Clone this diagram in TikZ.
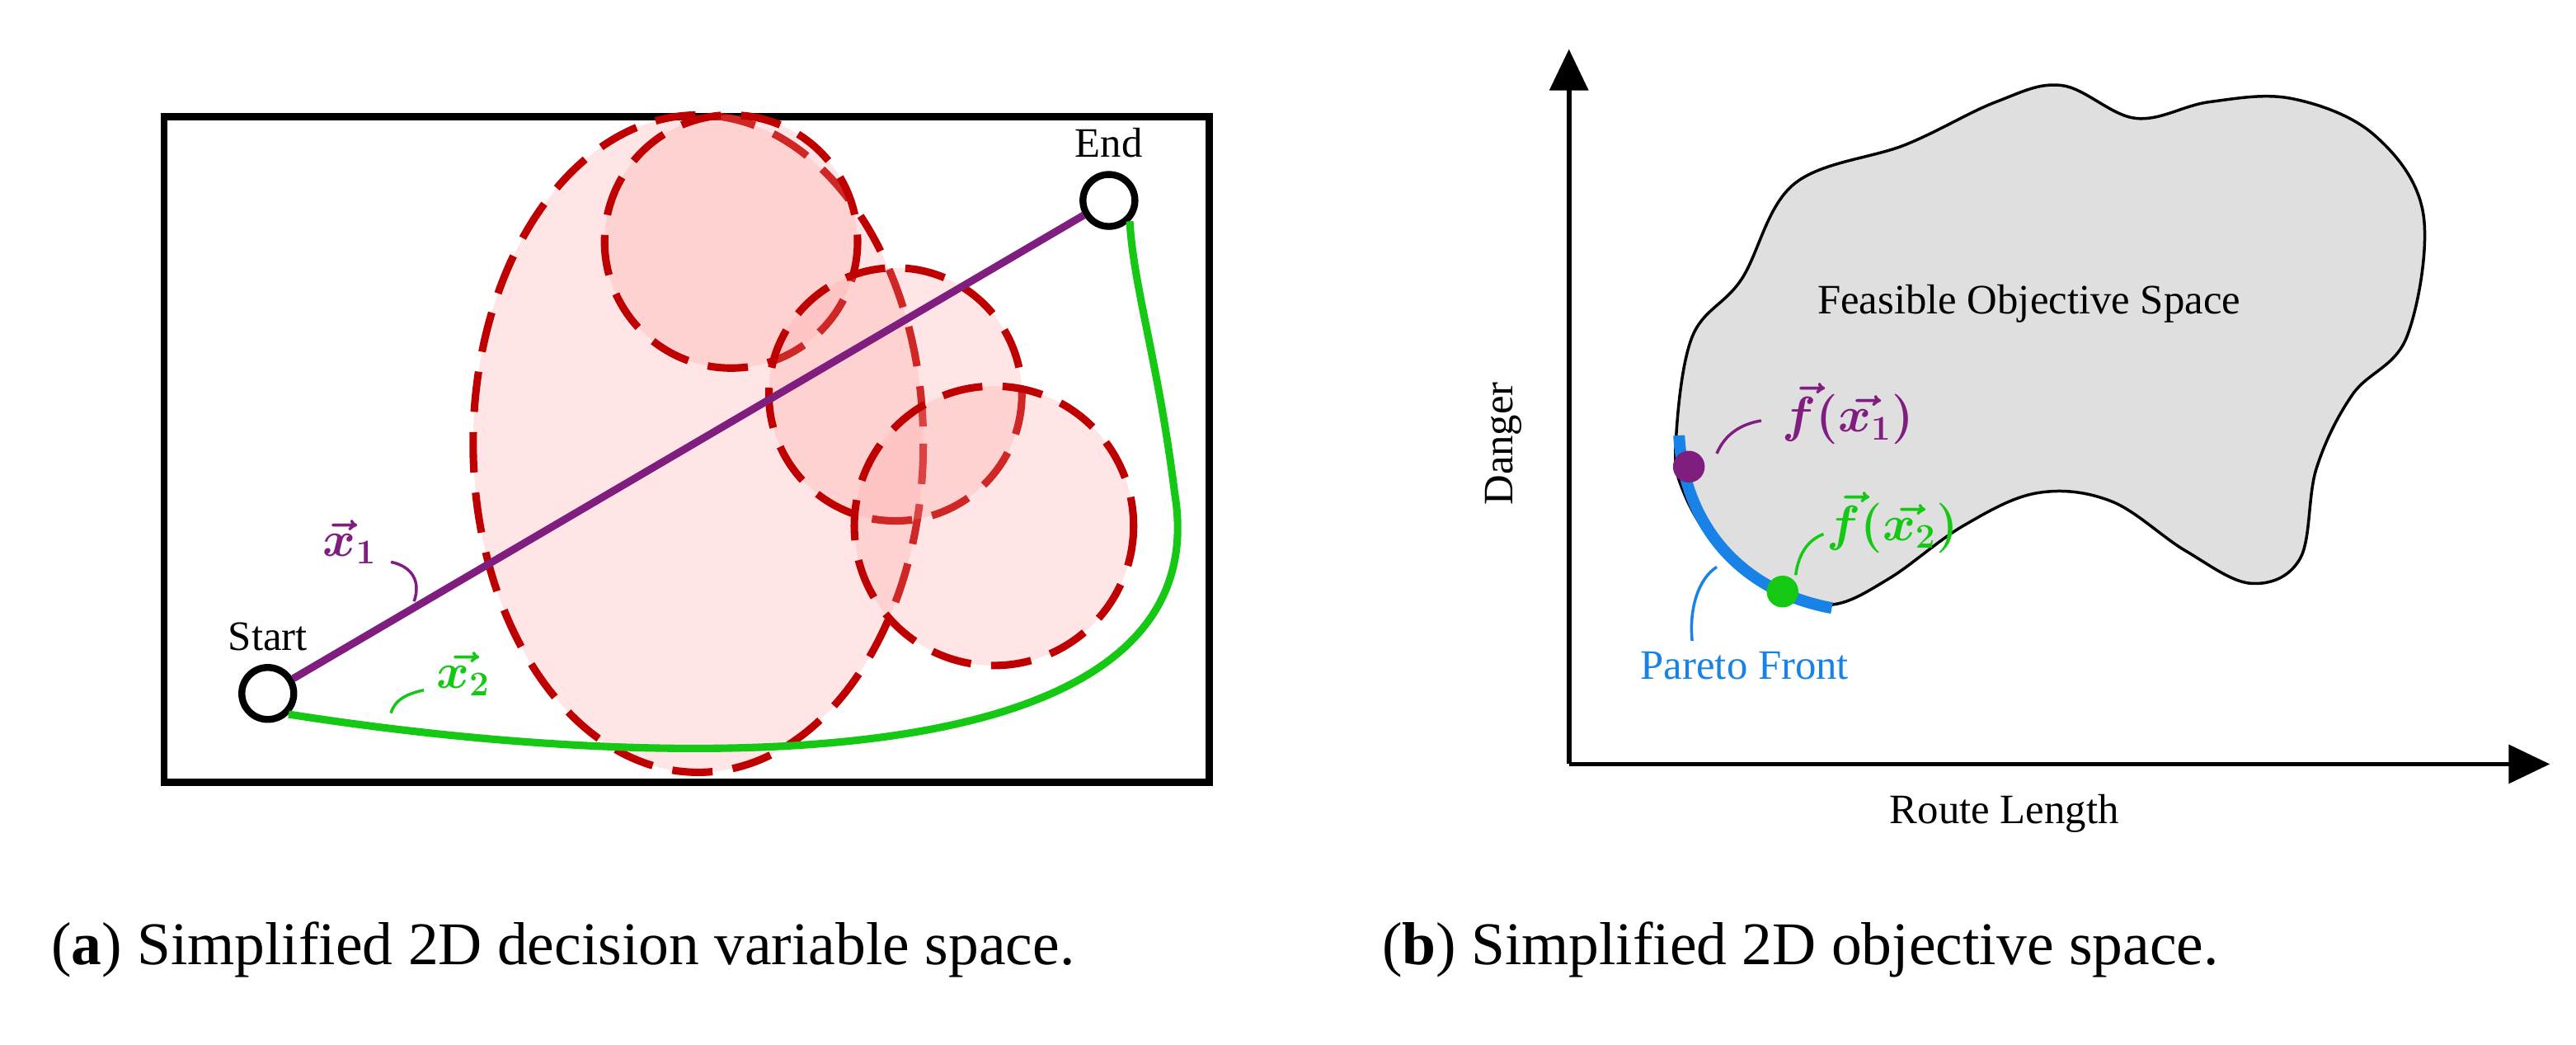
\documentclass[tikz,border=0pt]{standalone}
\usepackage{fontspec}
\setmainfont{Liberation Serif}
\usepackage{amsmath}
\begin{document}
\begin{tikzpicture}[x=0.02cm,y=-0.02cm,
  lbl/.style={font=\fontsize{14.5}{16}\selectfont},
  mlb/.style={font=\fontsize{18}{20}\selectfont},
  rd/.style={draw=red!75!black,line width=2.6pt,dash pattern=on 14pt off 7pt,fill=red!40,fill opacity=0.25},
  hook/.style={line width=1pt},
  dot/.style={circle,minimum size=11pt,inner sep=0pt}]
\useasboundingbox (0,0) rectangle (1568,635.5);
\definecolor{pur}{RGB}{128,30,128}
\definecolor{grn}{RGB}{20,200,20}
\definecolor{blu}{RGB}{25,130,230}
% left panel
\draw[line width=2.4pt] (100,71) rectangle (736,476);
\path[rd] (425,270) ellipse [x radius=137,y radius=200];
\path[rd] (445,147) circle [radius=77];
\path[rd] (545,240) circle [radius=77];
\path[rd] (605,320) circle [radius=85];
\node[circle,draw,line width=2.4pt,inner sep=0pt,minimum size=18pt] (s) at (163,422) {};
\node[circle,draw,line width=2.4pt,inner sep=0pt,minimum size=18pt] (e) at (675,122) {};
\node[lbl,above=1pt] at (s.north) {Start};
\node[lbl,above=1pt] at (e.north) {End};
\draw[pur,line width=2.6pt] (s) -- (e);
\draw[grn,line width=2.6pt] (s.south east) .. controls (400,470) and (745,480) .. (715,300) .. controls (705,220) and (690,175) .. (e.south east);
\node[pur,mlb] (x1) at (213,330) {$\boldsymbol{\vec{x}_1}$};
\draw[pur,hook] (238,342) .. controls (252,345) and (256,355) .. (252,366);
\node[grn,mlb] (x2) at (282,410) {$\boldsymbol{\vec{x_2}}$};
\draw[grn,hook] (258,420) .. controls (248,422) and (240,426) .. (238,434);
% right panel
\draw[line width=1.6pt] (955,465) -- (955,52);
\fill (955,30) -- (943,55) -- (967,55) -- cycle;
\draw[line width=1.6pt] (955,465) -- (1528,465);
\fill (1552,465) -- (1527,453) -- (1527,477) -- cycle;
\node[lbl,rotate=90] at (915,270) {Danger};
\node[lbl] at (1220,495) {Route Length};
\draw[fill=gray!25,line width=1pt] plot[smooth cycle,tension=0.6] coordinates {
(1020,270) (1030,205) (1060,170) (1092,112) (1160,88) (1215,62) (1255,52) (1300,72) (1345,62) (1395,60) (1445,82) (1475,130) (1465,205) (1432,240) (1410,285) (1400,340) (1370,355) (1330,335) (1285,305) (1240,300) (1195,320) (1150,352) (1115,368) (1080,360) (1045,332) (1025,300)};
\draw[blu,line width=4pt] (1022,265) .. controls (1025,320) and (1060,360) .. (1115,370);
\node[dot,fill=pur] (f1) at (1028,284) {};
\node[dot,fill=grn] (f2) at (1085,360) {};
\node[lbl] at (1235,185) {Feasible Objective Space};
\node[pur,mlb] at (1125,252) {$\boldsymbol{\vec{f}(\vec{x_1})}$};
\draw[pur,hook] (1045,276) .. controls (1050,264) and (1060,258) .. (1072,256);
\node[grn,mlb] at (1152,318) {$\boldsymbol{\vec{f}(\vec{x_2})}$};
\draw[grn,hook] (1093,350) .. controls (1095,335) and (1102,328) .. (1110,325);
\node[blu,lbl] at (1062,405) {Pareto Front};
\draw[blu,hook] (1030,390) .. controls (1028,370) and (1034,352) .. (1045,345);
% captions
\node[anchor=west,font=\fontsize{21}{24}\selectfont] at (25,578) {(\textbf{a}) Simplified 2D decision variable space.};
\node[anchor=west,font=\fontsize{21}{24}\selectfont] at (835,578) {(\textbf{b}) Simplified 2D objective space.};
\end{tikzpicture}
\end{document}
